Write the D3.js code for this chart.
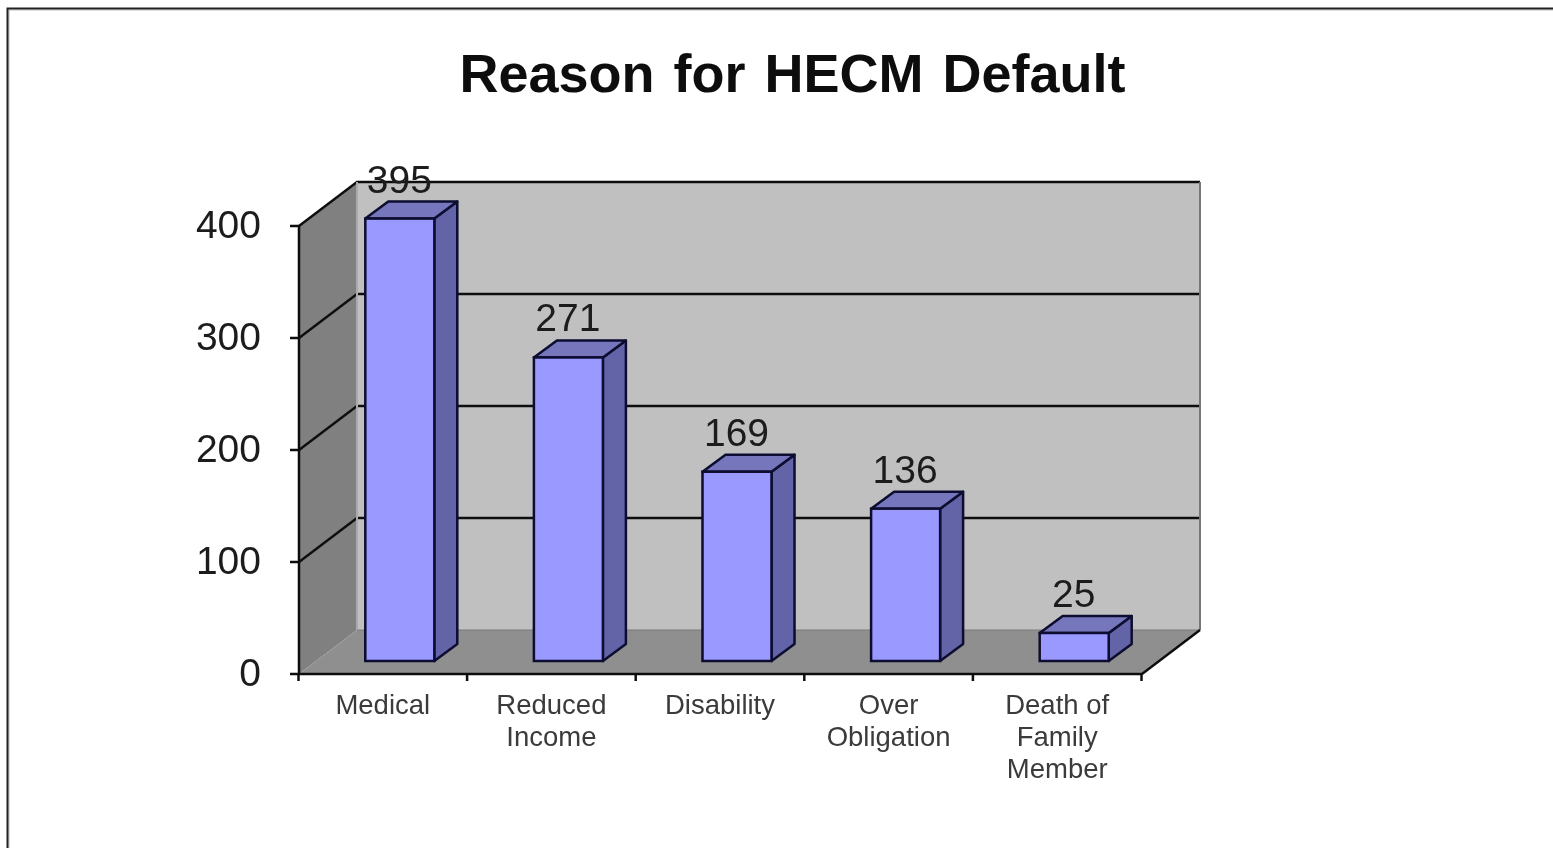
<!DOCTYPE html>
<html><head><meta charset="utf-8">
<script src="https://cdn.jsdelivr.net/npm/d3@7"></script>
<style>html,body{margin:0;padding:0;background:#fff;overflow:hidden}svg{display:block}text{font-family:"Liberation Sans",Arial,sans-serif}</style>
</head><body><svg id="c" width="1553" height="848"></svg>
<script>
const categories = [["Medical"],["Reduced","Income"],["Disability"],["Over","Obligation"],["Death of","Family","Member"]];
const values = [395,271,169,136,25];
const yTicks = [0,100,200,300,400];
const titleText = "Reason for HECM Default";

const svg = d3.select("#c");
const defs = svg.append("defs");
defs.append("filter").attr("id","soft").attr("filterUnits","userSpaceOnUse").attr("x",0).attr("y",0).attr("width",1553).attr("height",848)
  .append("feGaussianBlur").attr("stdDeviation",0.7);

// page frame
svg.append("path").attr("d","M7.5,848V8.5H1553").attr("fill","none").attr("stroke","#bdbdbd").attr("stroke-width",1).attr("transform","translate(1.5,1.5)");
svg.append("path").attr("d","M7.5,848V8.5H1553").attr("fill","none").attr("stroke","#222").attr("stroke-width",2);

const x = d3.scaleBand().domain(d3.range(categories.length)).range([299,1142]).paddingInner(0).paddingOuter(0);
const y = d3.scaleLinear().domain([0,400]).range([674,226]);
const DX = 58, DY = -44;       // wall depth
const OX = 17, OY = -13;       // bar plane offset
const BX = 23, BY = -17;       // bar depth
const barW = 69;

const g = svg.append("g").attr("filter","url(#soft)");
const poly = pts => "M" + pts.map(p=>p.join(",")).join("L") + "Z";
const yB = y(0), yT = y(400), xL = x.range()[0], xR = x.range()[1];

// back wall
g.append("path").attr("d",poly([[xL+DX,yB+DY],[xR+DX,yB+DY],[xR+DX,y(400)+DY],[xL+DX,y(400)+DY]])).attr("fill","#c0c0c0");
// side wall
g.append("path").attr("d",poly([[xL,yB],[xL+DX,yB+DY],[xL+DX,yT+DY],[xL,yT]])).attr("fill","#808080");
// floor
g.append("path").attr("d",poly([[xL,yB],[xR,yB],[xR+DX,yB+DY],[xL+DX,yB+DY]])).attr("fill","#8f8f8f");

// gridlines
yTicks.forEach(t=>{
  if(t>0){
    g.append("path").attr("d",`M${xL},${y(t)}L${xL+DX},${y(t)+DY}L${xR+DX},${y(t)+DY}`)
      .attr("fill","none").attr("stroke","#111").attr("stroke-width",2.5);
  }
});
g.append("path").attr("d",`M${xR+DX},${y(400)+DY}V${yB+DY}`).attr("stroke","#777").attr("stroke-width",2);
g.append("path").attr("d",`M${xL+DX},${yT+DY}V${yB+DY}`).attr("stroke","#aaa").attr("stroke-width",2);
g.append("path").attr("d",`M${xL+DX},${yB+DY}H${xR+DX}`).attr("stroke","#7a7a7a").attr("stroke-width",1);

// axes
g.append("path").attr("d",`M${xL},${yT}V${yB}H${xR}L${xR+DX},${yB+DY}`).attr("fill","none").attr("stroke","#111").attr("stroke-width",2.5);
g.selectAll(".yt").data(yTicks).join("path").attr("d",t=>`M${xL-9},${y(t)}H${xL}`).attr("stroke","#111").attr("stroke-width",2.5);
const xTicks = d3.range(categories.length).map(i=>x(i)).concat([xR]);
g.selectAll(".xt").data(xTicks).join("path").attr("d",t=>`M${t-0.5},${yB}v7`).attr("stroke","#111").attr("stroke-width",2.5);

// bars
const bars = g.selectAll(".bar").data(values).join("g");
const stroke = "#0c0c30";
bars.each(function(v,i){
  const s = d3.select(this);
  const x0 = x(i)+x.bandwidth()/2 - barW/2 + OX - 0.5, x1 = x0+barW;
  const b = yB+OY, t = b-(y(0)-y(v));
  s.append("path").attr("d",poly([[x1,b],[x1+BX,b+BY],[x1+BX,t+BY],[x1,t]])).attr("fill","#6464a8").attr("stroke",stroke).attr("stroke-width",2.5).attr("stroke-linejoin","round");
  s.append("path").attr("d",poly([[x0,t],[x1,t],[x1+BX,t+BY],[x0+BX,t+BY]])).attr("fill","#7676bc").attr("stroke",stroke).attr("stroke-width",2.5).attr("stroke-linejoin","round");
  s.append("rect").attr("x",x0).attr("y",t).attr("width",barW).attr("height",b-t).attr("fill","#9999ff").attr("stroke",stroke).attr("stroke-width",2.5);
  s.append("text").attr("x",x0+barW/2-0.5).attr("y",t-26).attr("text-anchor","middle").attr("font-size",39).attr("fill","#1c1c1c").text(v);
});

// y labels
g.selectAll(".yl").data(yTicks).join("text").attr("x",xL-38).attr("y",t=>y(t)+12).attr("text-anchor","end").attr("font-size",39).attr("fill","#1c1c1c").text(d=>d);

// x labels
categories.forEach((lines,i)=>{
  lines.forEach((l,j)=>{
    g.append("text").attr("x",x(i)+x.bandwidth()/2-0.5).attr("y",714+j*32).attr("text-anchor","middle").attr("font-size",27.5).attr("fill","#3a3a3a").text(l);
  });
});

// title
g.append("text").attr("x",792.5).attr("y",92).attr("text-anchor","middle").attr("font-size",54).attr("font-weight","bold").attr("fill","#0c0c0c").attr("word-spacing",4).text(titleText);
</script></body></html>
